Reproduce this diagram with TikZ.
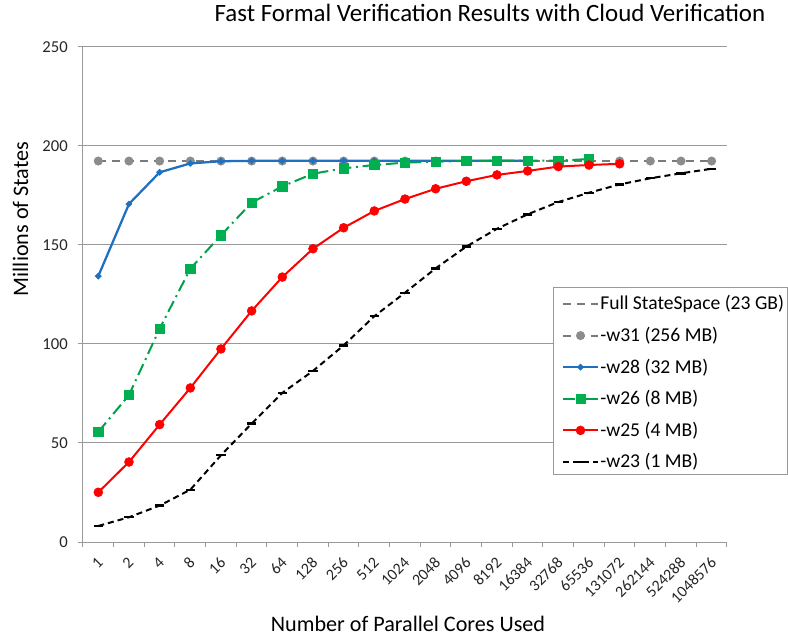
\documentclass[tikz,border=0pt]{standalone}
\usepackage{fontspec}
\setmainfont{Carlito}
\usepackage{tikz}
\usetikzlibrary{plotmarks}
\definecolor{CoreBlue}{HTML}{1F70C1}
\definecolor{CoreGreen}{HTML}{00A04C}
\definecolor{MarkGreen}{HTML}{00B050}
\definecolor{CoreRed}{HTML}{FF0000}
\definecolor{CoreGray}{HTML}{7A7A7A}
\definecolor{DotGray}{HTML}{8C8C8C}
\definecolor{AxisGray}{HTML}{999999}

\begin{document}
\begin{tikzpicture}[
      x=0.75pt, y=0.75pt,
      gline/.style={draw=AxisGray, line width=0.75pt},
      axl/.style={draw=AxisGray, line width=0.75pt},
      ytick/.style={anchor=east, inner sep=0pt, xshift=-11.25pt,
                    font=\fontsize{12.5}{14}\selectfont, text=black!85},
      xtick/.style={anchor=east, inner sep=0pt, xshift=1.5pt,
                    yshift=-13.5pt, rotate=45,
                    font=\fontsize{12}{14}\selectfont, text=black!85},
      ttl/.style={anchor=base, inner sep=0pt,
                  font=\fontsize{18.7}{22}\selectfont},
      atl/.style={anchor=base, inner sep=0pt,
                  font=\fontsize{16.6}{19}\selectfont},
      lgd/.style={anchor=west, inner sep=0pt,
                  font=\fontsize{14.7}{17}\selectfont},
      fss/.style={draw=CoreGray, line width=1.5pt,
                  dash pattern=on 6pt off 4.5pt},
      w31/.style={draw=CoreGray, line width=1.5pt,
                  dash pattern=on 6pt off 4.5pt, mark=*, mark size=2.6pt,
                  mark options={solid, draw=DotGray, fill=DotGray}},
      w28/.style={draw=CoreBlue, line width=1.7pt, mark=diamond*,
                  mark size=3pt,
                  mark options={solid, yscale=0.75, line width=0.5pt,
                                draw=CoreBlue, fill=CoreBlue}},
      w26/.style={draw=CoreGreen, line width=1.5pt,
                  dash pattern=on 9pt off 3.5pt on 1.5pt off 3.5pt,
                  mark=square*, mark size=3.5pt,
                  mark options={solid, line width=0.5pt,
                                draw=MarkGreen, fill=MarkGreen}},
      w25/.style={draw=CoreRed, line width=1.5pt, mark=*, mark size=3.3pt,
                  mark options={solid, line width=0.5pt,
                                draw=CoreRed, fill=CoreRed}},
      w23/.style={draw=black, line width=1.5pt,
                  dash pattern=on 4.5pt off 3pt, mark=-, mark size=3.6pt,
                  mark options={solid, line width=1.8pt}},
    ]
      \useasboundingbox (0,0) rectangle (788,639);

      \node[ttl] (title) at (490,617)
        {Fast Formal Verification Results with Cloud Verification};
      \node[atl] (xtitle) at (408,8) {Number of Parallel Cores Used};
      \node[atl, rotate=90] (ytitle) at (28,420) {Millions of States};

      % plot area: one unit per core count, y in millions
      \begin{scope}[shift={(98.3,97)}, x=23pt, y=1.485pt]
        \foreach \v in {50,100,...,250}
          \draw[gline] (-0.5,\v) -- (20.5,\v);
        \draw[axl] (-0.5,0) -- (-0.5,250);
        \draw[axl] (-0.5,0) -- (20.5,0);
        \foreach \v in {0,50,...,250} {
          \draw[axl] (-0.5,\v) -- ++(-3.75pt,0);
          \node[ytick] (yt\v) at (-0.5,\v) {\v};
        }
        \foreach \k in {0,...,21}
          \draw[axl] (\k-0.5,0) -- ++(0,-3.75pt);
        \foreach \n [count=\i from 0] in {1,2,4,8,16,32,64,128,256,512,
            1024,2048,4096,8192,16384,32768,65536,131072,262144,524288,
            1048576}
          \node[xtick] (xt\i) at (\i,0) {\n};

        \draw[fss] (0,192.4) -- (20,192.4);
        \draw[w31] plot coordinates {(0,192.4) (1,192.4) (2,192.4)
          (3,192.4) (4,192.4) (5,192.4) (6,192.4) (7,192.4) (8,192.4)
          (9,192.4) (10,192.4) (11,192.4) (12,192.4) (13,192.4)
          (14,192.4) (15,192.4) (16,192.4) (17,192.4) (18,192.4)
          (19,192.4) (20,192.4)};
        \draw[w28] plot coordinates {(0,134.3) (1,170.7) (2,186.7)
          (3,191.2) (4,192.3) (5,192.5) (6,192.5) (7,192.5) (8,192.5)
          (9,192.5) (10,192.5) (11,192.5) (12,192.5) (13,192.5)
          (14,192.5)};
        \draw[w26] plot coordinates {(0,55.6) (1,74.2) (2,107.7)
          (3,138.0) (4,154.9) (5,171.4) (6,179.6) (7,186.0) (8,188.7)
          (9,190.4) (10,191.6) (11,192.1) (12,192.4) (13,192.6)
          (14,192.6) (15,192.6) (16,193.4)};
        \draw[w25] plot coordinates {(0,25.1) (1,40.4) (2,59.3) (3,77.8)
          (4,97.5) (5,116.7) (6,133.8) (7,148.1) (8,158.7) (9,167.2)
          (10,173.2) (11,178.4) (12,182.2) (13,185.4) (14,187.4)
          (15,189.6) (16,190.4) (17,191.0)};
        \draw[w23] plot coordinates {(0,8.1) (1,12.5) (2,18.4) (3,26.4)
          (4,43.8) (5,59.8) (6,75.3) (7,86.4) (8,99.3) (9,114.0)
          (10,125.9) (11,138.2) (12,149.2) (13,158.2) (14,165.5)
          (15,171.7) (16,176.4) (17,180.6) (18,183.7) (19,186.2)
          (20,188.5)};
      \end{scope}

      % legend
      \draw[axl, fill=white] (553,351) rectangle (787,165);
      \foreach \s/\t [count=\k from 0] in {fss/Full StateSpace (23 GB),
          w31/-w31 (256 MB), w28/-w28 (32 MB), w26/-w26 (8 MB),
          w25/-w25 (4 MB), w23/-w23 (1 MB)} {
        \draw[\s] (563,335-31.6*\k) -- (598,335-31.6*\k);
        \path[\s] plot[only marks] coordinates {(580.5,335-31.6*\k)};
        \node[lgd] (lg\k) at (600,335-31.6*\k) {\t};
      }
    \end{tikzpicture}
\end{document}
